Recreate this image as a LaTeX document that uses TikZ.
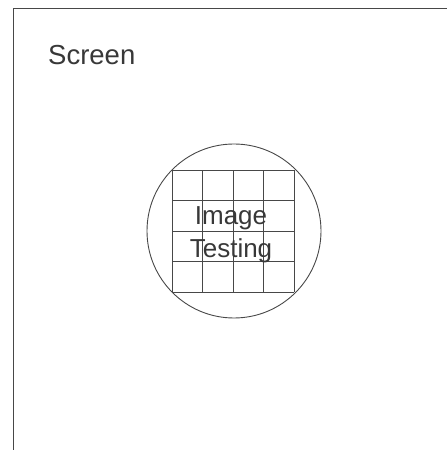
\documentclass[tikz,border=0pt]{standalone}
\usepackage{fontspec}
\setmainfont{Liberation Sans}
\usetikzlibrary{positioning}

\definecolor{inkgray}{HTML}{383838}
\definecolor{linegray}{HTML}{484848}

\tikzset{
  label text/.style={inner sep=0pt, text=inkgray, font=\fontsize{26}{30}\selectfont},
  thin line/.style={draw=linegray, line width=0.9pt}
}

\begin{document}
\begin{tikzpicture}[x=1pt,y=1pt]
 \useasboundingbox (0,0) rectangle (447,450);
 \clip (0,0) rectangle (447,450);

 % screen frame, cut off at right and bottom
 \draw[thin line] (13,441.5) rectangle (470,-20);
 \node[label text, anchor=base west, font=\fontsize{27.5}{30}\selectfont] (screen) at (48,385) {Screen};

 % lens and test pattern
 \coordinate (ctr) at (234,219);
 \draw[thin line] (ctr) circle (87);
 \draw[thin line, shift={(172,158)}, step=30.5] (0,0) grid (122,122);

 \node[label text, anchor=base] (image) at (231,225) {Image};
 \node[label text, anchor=base] (testing) at (231,192) {Testing};
\end{tikzpicture}
\end{document}
